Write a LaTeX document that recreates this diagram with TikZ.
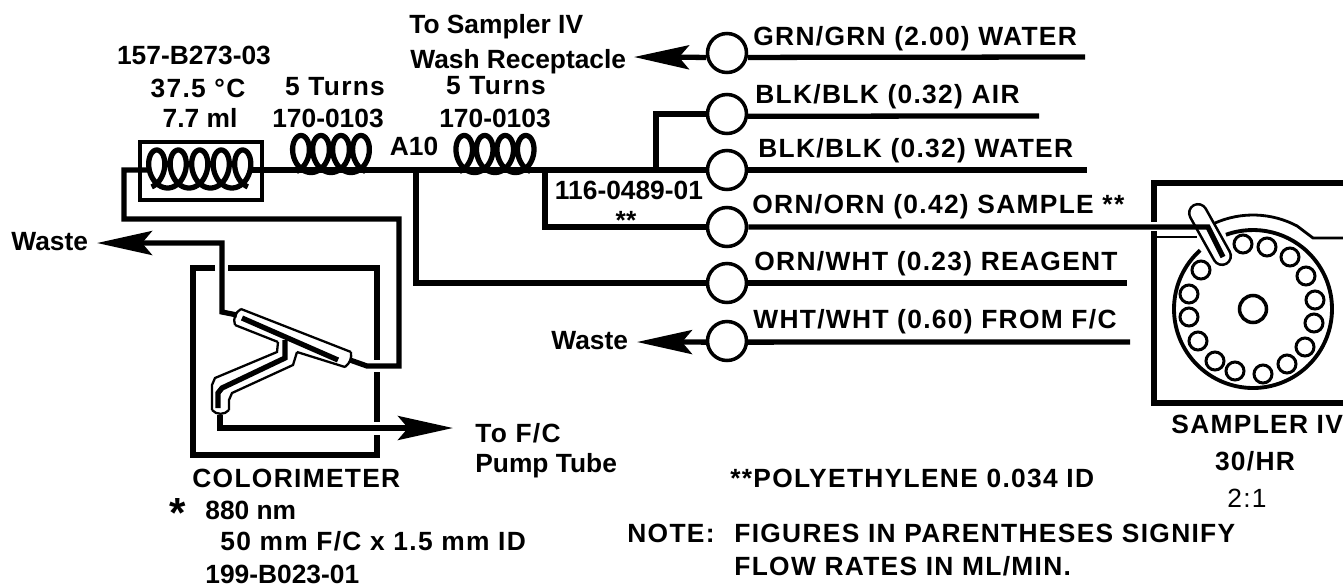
\documentclass[tikz,border=0pt]{standalone}
\usepackage{fontspec}
\setmainfont{Liberation Sans}
\newfontfamily\capsfont[LetterSpace=5]{Liberation Sans}
\usetikzlibrary{arrows.meta}
\tikzset{
	tube/.style={line width=3pt},
	thinline/.style={line width=1.6pt},
	outline/.style={line width=1.3pt},
	flowarrow/.style={tube,-{Stealth[length=1.1cm,width=0.48cm,inset=0.2cm]}},
	pump/.style={draw,circle,line width=2pt,fill=white,minimum size=0.78cm,inner sep=0pt},
	hole/.style={draw,circle,line width=1.7pt,minimum size=0.36cm,inner sep=0pt},
	lbl/.style={font=\bfseries\fontsize{15}{17}\selectfont,inner sep=0pt,anchor=base west},
	lblc/.style={lbl,anchor=base},
	caps/.style={font=\capsfont\bfseries\fontsize{15}{17}\selectfont,inner sep=0pt,anchor=base west},
	capsc/.style={caps,anchor=base}
}
\begin{document}
\begin{tikzpicture}[x=0.02cm,y=-0.02cm]
	\useasboundingbox (0,0) rectangle (1343,586);

	% Sampler
	\coordinate (discc) at (1253,309);
	\draw[tube] (1343,183) -- (1154,183) -- (1154,222);
	\draw[tube] (1154,231) -- (1154,403) -- (1343,403);
	\draw[thinline] (1157,237) -- (1197,237);
	\draw[thinline] (discc) ++(-114:94) arc[start angle=-114,end angle=-62,radius=94] -- (1313,238) -- (1343,238);
	\draw[line width=2.2pt] (discc) ++(228:79) arc[start angle=228,end angle=-110,radius=79];

	% Sample probe
	\coordinate (probea) at (1198,213);
	\coordinate (probeb) at (1222,256);
	\draw[line width=1.5pt,double,double distance=8.5pt,line cap=round] (probea) -- (probeb);

	% Sample cups
	\foreach \name/\px/\py in {a/1243/244,b/1267/247,c/1290/257,d/1306/276,e/1315/300,f/1314/323,g/1305/347,h/1287/364,i/1263/374,j/1235/371,k/1215/361,l/1198/341,m/1189/317,n/1189/294,o/1201/270}
		\node[hole] (cup\name) at (\px,\py) {};
	\node[draw,circle,line width=2pt,minimum size=0.54cm,inner sep=0pt] (hub) at (discc) {};

	% Pump tubes
	\foreach \name/\yy in {grn/53,air/114,wat/170,smp/227,rgt/283,frc/341}
		\node[pump] (\name) at (727,\yy) {};

	% Free ends of the pump tubes
	\coordinate (grnend) at (1085,57);
	\coordinate (airend) at (1039,116);
	\coordinate (watend) at (1087,170);
	\coordinate (rgtend) at (1127,283);
	\coordinate (frcend) at (1130,342);
	\draw[tube] (grn.-12) -- (grnend);
	\draw[tube] (air.-6) -- (airend);
	\draw[tube] (wat.east) -- (watend);
	\draw[tube] (rgt.east) -- (rgtend);
	\draw[tube] (frc.-3) -- (frcend);

	% Sample line into the probe
	\coordinate (smpin) at (1208,227);
	\coordinate (probein) at (1223,257);
	\draw[tube] (smp.east |- smpin) -- (smpin) -- (probein);

	% Pump tube labels
	\node[caps] (grnlbl) at (753,45) {GRN/GRN (2.00) WATER};
	\node[caps] (airlbl) at (755,103) {BLK/BLK (0.32) AIR};
	\node[caps] (watlbl) at (758,157) {BLK/BLK (0.32) WATER};
	\node[caps] (smplbl) at (752,213) {ORN/ORN (0.42) SAMPLE **};
	\node[caps] (rgtlbl) at (754,270) {ORN/WHT (0.23) REAGENT};
	\node[caps] (frclbl) at (753,328) {WHT/WHT (0.60) FROM F/C};

	% Arrows to waste
	\node[lbl] (sampto) at (409,33) {To Sampler IV};
	\node[lbl] (wash) at (410,68) {Wash Receptacle};
	\node[lbl] (wasteb) at (551,349) {Waste};
	\node[lbl] (wastea) at (11,250) {Waste};
	\coordinate (washtip) at (634,57);
	\coordinate (wastebtip) at (637,342);
	\draw[flowarrow] (grn.192) -- (washtip);
	\draw[flowarrow] (frc.183) -- (wastebtip);

	% Heater and mixing coils
	\node[draw,line width=2pt,minimum width=2.44cm,minimum height=1.16cm,inner sep=0pt] (bath) at (201,171) {};
	\foreach \xa/\yy/\hh/\pp/\nn in {146/169/19/21.5/5,291/154/18.5/20/4,454/154/18.5/20.5/4}
		\draw[line width=3pt] plot[domain=20:{360*\nn-20},samples=50*\nn,smooth,variable=\t] ({\xa+\pp/360*\t+13*sin(\t)},{\yy+\hh*cos(\t)});

	% Main line
	\coordinate (jointa) at (416,170);
	\coordinate (jointb) at (545,170);
	\coordinate (jointc) at (656,170);
	\coordinate (inlet) at (124,170);
	\coordinate (coilin) at (148,170);
	\coordinate (coilout) at (252,170);
	\draw[tube] (coilout) -- (wat.west);
	\draw[tube] (jointc) |- (air.west);
	\draw[tube] (jointa) |- (rgt.west);
	\draw[tube] (jointb) |- (smp.west);

	% Coil labels
	\node[lblc] (partc) at (194,64) {157-B273-03};
	\node[capsc] (temp) at (198,97) {37.5 °C};
	\node[lblc] (vol) at (200,127) {7.7 ml};
	\node[capsc] (turna) at (335,95) {5 Turns};
	\node[lblc] (parta) at (328,127) {170-0103};
	\node[capsc] (turnb) at (496,94) {5 Turns};
	\node[lblc] (partb) at (495,127) {170-0103};
	\node[lblc] (aten) at (414,155) {A10};
	\node[lblc] (partd) at (629,199) {116-0489-01};
	\node[lblc] (stars) at (626,229) {**};

	% Colorimeter
	\coordinate (boxtl) at (193,268);
	\coordinate (boxtr) at (377,268);
	\coordinate (boxbl) at (193,455);
	\coordinate (boxbr) at (377,455);
	\draw[tube] (215,268) -- (boxtl) -- (boxbl) -- (boxbr) -- (377,435);
	\draw[tube] (228,268) -- (boxtr) -- (377,360);
	\draw[tube] (377,372) -- (377,422);

	% Flow cell
	\coordinate (cellin) at (237,315);
	\coordinate (cellout) at (350,360);
	\coordinate (wastecora) at (222,312);
	\coordinate (wastecor) at (222,243);
	\coordinate (wastetip) at (97,243);
	\coordinate (ftop) at (124,219);
	\coordinate (fcor) at (399,219);
	\coordinate (fbot) at (399,366);
	\coordinate (fbotb) at (367,366);
	\draw[flowarrow] (cellin) -- (wastecora) -- (wastecor) -- (wastetip);
	\draw[tube] (coilin) -- (inlet) -- (ftop) -- (fcor) -- (fbot) -- (fbotb) -- (cellout);
	\draw[outline] (241,309) -- (351,352) (235,325) -- (278,342) (297,352) -- (345,367);
	\draw[outline] (241,309) to[bend right=40] (235,325);
	\draw[outline] (351,352) to[bend left=30] (345,367);
	\draw[outline] (278,342) -- (277,352) -- (215,378) -- (212,385) -- (212,410);
	\draw[outline] (297,352) -- (293,365) -- (232,393) -- (229,400) -- (229,410);
	\draw[outline] (212,410) to[bend right=50] (229,410);
	\draw[tube] (242,318) -- (338,360);
	\draw[tube] (285,340) -- (285,358) -- (222,388) -- (218,393) -- (218,408);
	\coordinate (cellbot) at (220,415);
	\coordinate (fcorb) at (220,428);
	\coordinate (ftip) at (453,428);
	\draw[flowarrow] (cellbot) -- (fcorb) -- (ftip);

	% Colorimeter labels
	\node[caps] (tofc) at (475,442) {To F/C};
	\node[lbl] (pumpt) at (475,472) {Pump Tube};
	\node[caps] (colorim) at (192,487) {COLORIMETER};
	\node[lblc,font=\bfseries\fontsize{24}{24}\selectfont] (star) at (178,527) {*};
	\node[lbl] (wave) at (205,519) {880 nm};
	\node[caps] (cell) at (220,550) {50 mm F/C x 1.5 mm ID};
	\node[lbl] (partf) at (205,583) {199-B023-01};

	% Sampler labels
	\node[caps] (samplername) at (1171,433) {SAMPLER IV};
	\node[capsc] (rate) at (1255,470) {30/HR};
	\node[inner sep=0pt,anchor=base,font=\capsfont\fontsize{15}{17}\selectfont] (ratio) at (1247,507) {2:1};

	% Notes
	\node[caps] (poly) at (730,487) {**POLYETHYLENE 0.034 ID};
	\node[caps] (note) at (627,542) {NOTE:};
	\node[caps] (fig) at (734,542) {FIGURES IN PARENTHESES SIGNIFY};
	\node[caps] (flow) at (734,575) {FLOW RATES IN ML/MIN.};
\end{tikzpicture}
\end{document}
